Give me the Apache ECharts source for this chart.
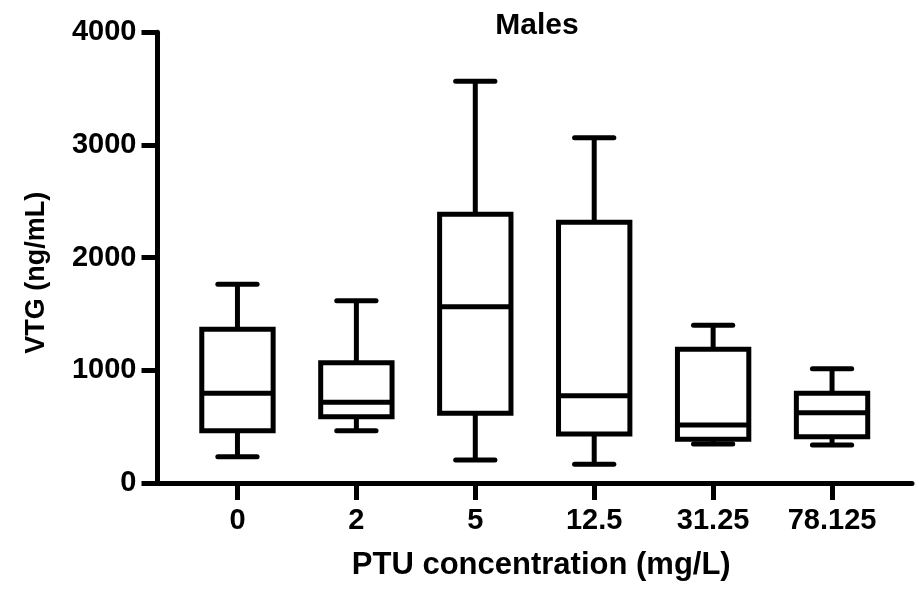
<!DOCTYPE html>
<html>
<head>
<meta charset="utf-8">
<script src="https://cdn.jsdelivr.net/npm/echarts@6/dist/echarts.min.js"></script>
<style>
  html, body { margin: 0; padding: 0; background: #fff; }
  #chart { width: 919px; height: 594px; }
</style>
</head>
<body>
<div id="chart"></div>
<script>
// PTU dose groups (mg/L)
var categories = ['0', '2', '5', '12.5', '31.25', '78.125'];
// Box-and-whisker summary of VTG (ng/mL) for each group
var whiskerLow  = [233, 464, 204, 166, 346, 337];
var quartile1   = [464, 588, 619, 435, 388, 411];
var medians     = [796, 716, 1565, 775, 515, 624];
var quartile3   = [1364, 1068, 2385, 2314, 1187, 796];
var whiskerHigh = [1763, 1618, 3565, 3064, 1400, 1014];
// Value-axis ticks
var yTicks = [0, 1000, 2000, 3000, 4000];

var FONT = '"Liberation Sans", Arial, Helvetica, sans-serif';
var INK = '#000';
var STROKE = 5;

var boxData = categories.map(function (c, i) {
  return [i, whiskerLow[i], quartile1[i], medians[i], quartile3[i], whiskerHigh[i]];
});

function renderBox(params, api) {
  var i = api.value(0);
  var band = api.size([1, 0])[0];
  var boxHalf = band * 0.3;
  var capHalf = band * 0.165;
  var pLow = api.coord([i, api.value(1)]);
  var pQ1 = api.coord([i, api.value(2)]);
  var pMed = api.coord([i, api.value(3)]);
  var pQ3 = api.coord([i, api.value(4)]);
  var pHigh = api.coord([i, api.value(5)]);
  var cx = pMed[0];
  var stroke = { stroke: INK, lineWidth: STROKE, fill: null };
  var capStyle = { stroke: INK, lineWidth: STROKE, lineCap: 'round' };
  return {
    type: 'group',
    children: [
      { type: 'line', shape: { x1: cx, y1: pQ3[1], x2: cx, y2: pHigh[1] }, style: stroke },
      { type: 'line', shape: { x1: cx, y1: pQ1[1], x2: cx, y2: pLow[1] }, style: stroke },
      { type: 'line', shape: { x1: cx - capHalf, y1: pHigh[1], x2: cx + capHalf, y2: pHigh[1] }, style: capStyle },
      { type: 'line', shape: { x1: cx - capHalf, y1: pLow[1], x2: cx + capHalf, y2: pLow[1] }, style: capStyle },
      { type: 'rect', shape: { x: cx - boxHalf, y: pQ3[1], width: boxHalf * 2, height: pQ1[1] - pQ3[1] },
        style: { stroke: INK, lineWidth: STROKE, fill: '#fff' } },
      { type: 'line', shape: { x1: cx - boxHalf, y1: pMed[1], x2: cx + boxHalf, y2: pMed[1] }, style: stroke }
    ]
  };
}

var chart = echarts.init(document.getElementById('chart'), null, { renderer: 'canvas' });
chart.setOption({
  backgroundColor: '#fff',
  animation: false,
  title: {
    text: 'Males',
    left: 532,
    textAlign: 'center',
    top: 6,
    textStyle: { fontFamily: FONT, fontWeight: 'bold', fontSize: 30, color: INK }
  },
  grid: [
    { left: 178, right: 27.5, top: 32.3, bottom: 111 },
    { left: 155, right: 7, top: 32.3, bottom: 111 }
  ],
  xAxis: [
    {
      type: 'category',
      gridIndex: 0,
      data: categories,
      name: 'PTU concentration (mg/L)',
      nameLocation: 'middle',
      nameGap: 67,
      nameTextStyle: { fontFamily: FONT, fontWeight: 'bold', fontSize: 31, color: INK, padding: [0, 0, 0, 13] },
      axisLine: { show: false },
      axisTick: { show: true, alignWithLabel: true, length: 17, lineStyle: { color: INK, width: STROKE } },
      axisLabel: { margin: 23, fontFamily: FONT, fontWeight: 'bold', fontSize: 29, color: INK },
      splitLine: { show: false }
    },
    {
      type: 'value',
      gridIndex: 1,
      min: 0,
      max: 1,
      axisLine: { show: true, lineStyle: { color: INK, width: STROKE } },
      axisTick: { show: false },
      axisLabel: { show: false },
      splitLine: { show: false }
    }
  ],
  yAxis: [
    {
      type: 'value',
      gridIndex: 0,
      min: yTicks[0],
      max: yTicks[yTicks.length - 1],
      interval: yTicks[1] - yTicks[0],
      offset: 20.5,
      name: 'VTG (ng/mL)',
      nameLocation: 'middle',
      nameGap: 107,
      nameTextStyle: { fontFamily: FONT, fontWeight: 'bold', fontSize: 27, color: INK, padding: [0, 30, 0, 0] },
      axisLine: { show: true, lineStyle: { color: INK, width: STROKE } },
      axisTick: { show: true, length: 16, lineStyle: { color: INK, width: STROKE } },
      axisLabel: {
        margin: 21, fontFamily: FONT, fontWeight: 'bold', fontSize: 29, color: INK,
        formatter: function (v) { return String(v); }
      },
      splitLine: { show: false }
    },
    { type: 'value', gridIndex: 1, show: false, min: 0, max: 1 }
  ],
  series: [
    {
      type: 'custom',
      xAxisIndex: 0,
      yAxisIndex: 0,
      renderItem: renderBox,
      encode: { x: 0, y: [1, 2, 3, 4, 5] },
      data: boxData
    }
  ]
});
</script>
</body>
</html>
